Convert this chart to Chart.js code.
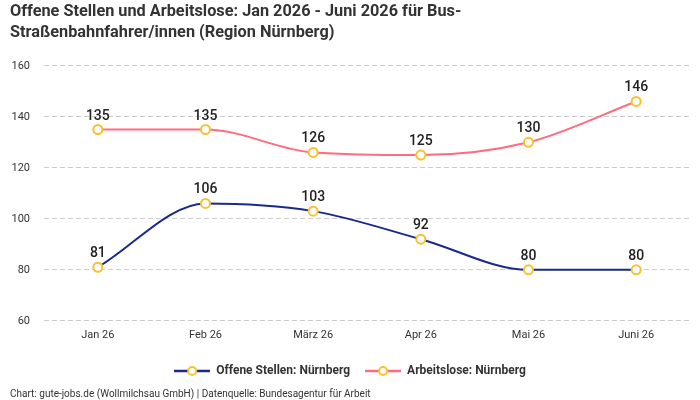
<!DOCTYPE html>
<html><head><meta charset="utf-8">
<script src="https://cdn.jsdelivr.net/npm/chart.js@4.4.1/dist/chart.umd.min.js"></script>
<style>html,body{margin:0;padding:0;background:#fff}#wrap{width:700px;height:400px}</style>
</head><body><div id="wrap"><canvas id="c"></canvas></div>
<script>
const categories = ["Jan 26","Feb 26","März 26","Apr 26","Mai 26","Juni 26"];
const offeneStellen = [81,106,103,92,80,80];
const arbeitslose = [135,135,126,125,130,146];
const seriesNames = ["Offene Stellen: Nürnberg","Arbeitslose: Nürnberg"];
const yTicks = [60,80,100,120,140,160];

const FONT = "Roboto, 'Noto Sans', sans-serif";
function legendIcon(color){
  const c=document.createElement('canvas');c.width=36;c.height=12;
  const x=c.getContext('2d');
  x.strokeStyle=color;x.lineWidth=2.5;x.beginPath();x.moveTo(0,6);x.lineTo(36,6);x.stroke();
  x.beginPath();x.arc(18,6,4,0,Math.PI*2);x.fillStyle='#fff';x.fill();x.strokeStyle='#fbc02d';x.lineWidth=2;x.stroke();
  return c;
}
const labelPlugin={id:'vals',afterDatasetsDraw(chart){
  const ctx=chart.ctx;ctx.save();
  ctx.font="500 14px "+FONT;ctx.fillStyle='#222';ctx.textAlign='center';ctx.textBaseline='alphabetic';
  chart.data.datasets.forEach((ds,i)=>{
    chart.getDatasetMeta(i).data.forEach((p,j)=>{ctx.fillText(ds.data[j],p.x,p.y-10);});
  });
  ctx.restore();
}};
new Chart(document.getElementById('c'),{
  type:'line',
  data:{labels:categories,datasets:[
    {label:seriesNames[0],data:offeneStellen,borderColor:'#1a2a8c',borderWidth:2,cubicInterpolationMode:'monotone',
     pointRadius:4.5,pointBorderWidth:2,pointBackgroundColor:'#fff',pointBorderColor:'#fbc02d',pointHoverRadius:4.5},
    {label:seriesNames[1],data:arbeitslose,borderColor:'#ff6b81',borderWidth:2,cubicInterpolationMode:'monotone',
     pointRadius:4.5,pointBorderWidth:2,pointBackgroundColor:'#fff',pointBorderColor:'#fbc02d',pointHoverRadius:4.5}
  ]},
  options:{responsive:true,maintainAspectRatio:false,animation:false,
    layout:{padding:{left:10,right:10,top:0,bottom:0}},
    plugins:{
      title:{display:true,text:["Offene Stellen und Arbeitslose: Jan 2026 - Juni 2026 für Bus-","Straßenbahnfahrer/innen (Region Nürnberg)"],
        align:'start',color:'#333',font:{family:FONT,size:16.3,weight:'bold',lineHeight:1.25},padding:{top:2,bottom:23}},
      subtitle:{display:true,position:'bottom',align:'start',text:"Chart: gute-jobs.de (Wollmilchsau GmbH) | Datenquelle: Bundesagentur für Arbeit",
        color:'#333',font:{family:FONT,size:10},padding:{top:1,bottom:0}},
      legend:{position:'bottom',labels:{usePointStyle:true,pointStyleWidth:36,boxHeight:12,color:'#333',font:{family:FONT,size:12,weight:'bold'},padding:15,
        generateLabels(chart){return chart.data.datasets.map((d,i)=>({text:d.label,pointStyle:legendIcon(d.borderColor),datasetIndex:i,fontColor:'#333',lineWidth:0,strokeStyle:'transparent',fillStyle:'transparent'}));}}},
      tooltip:{enabled:false}
    },
    scales:{
      x:{offset:true,grid:{display:false,drawTicks:false},border:{display:false},ticks:{color:'#333',font:{family:FONT,size:11},padding:8}},
      y:{min:60,max:160,afterBuildTicks(ax){ax.ticks=yTicks.map(v=>({value:v}));},
        afterFit(ax){ax.width=34;},
        grid:{color:'#cccccc',drawTicks:false},border:{display:false,dash:[5,3]},
        ticks:{color:'#333',font:{family:FONT,size:11},padding:14}}
    }
  },
  plugins:[labelPlugin]
});
</script></body></html>
